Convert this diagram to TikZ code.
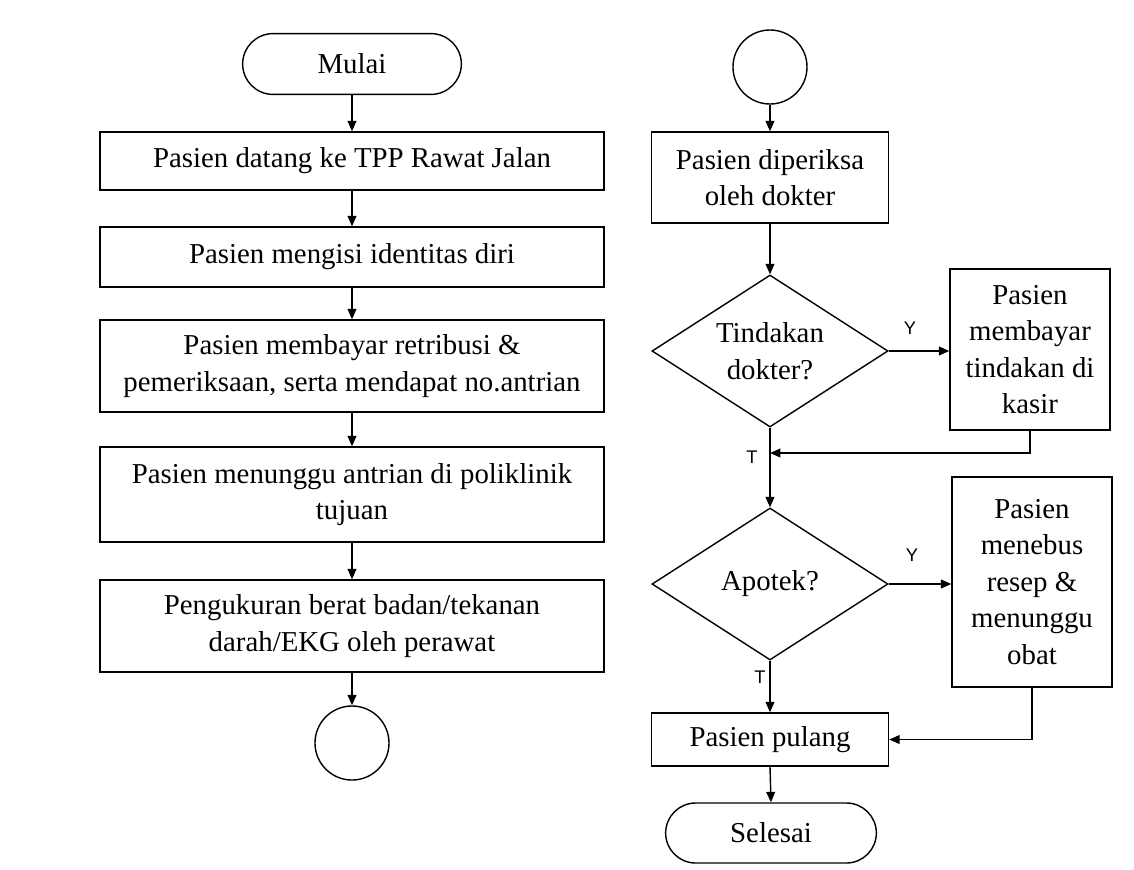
\documentclass[tikz,border=0pt]{standalone}
\usepackage{fontspec}
\setmainfont{Liberation Serif}
\newfontfamily\labelfont{Liberation Sans}
\usetikzlibrary{arrows.meta,shapes.geometric,shapes.misc}

\begin{document}
\begin{tikzpicture}[x=0.025cm,y=-0.025cm,line width=1pt,>={Triangle[length=2.6mm,width=2.2mm]},
  every node/.style={font=\fontsize{20.5}{26}\selectfont},
  kotak/.style={draw,rectangle,align=center,inner sep=2pt},
  kotakkiri/.style={kotak,minimum width=12.6cm},
  terminal/.style={draw,rounded rectangle,minimum width=5.7cm,minimum height=1.52cm},
  konektor/.style={draw,circle,minimum size=1.85cm},
  keputusan/.style={draw,diamond,aspect=1.54,align=center,inner sep=0pt,minimum width=5.9cm,minimum height=3.8cm},
  ket/.style={font=\labelfont\fontsize{13}{15}\selectfont}]
  \useasboundingbox (0,0) rectangle (1134,870);
  % kolom kiri: pendaftaran pasien
  \node[terminal] (mulai) at (352,64) {Mulai};
  \node[kotakkiri,minimum height=1.45cm] (datang) at (352,161) {Pasien datang ke TPP Rawat Jalan};
  \node[kotakkiri,minimum height=1.5cm] (identitas) at (352,257) {Pasien mengisi identitas diri};
  \node[kotakkiri,minimum height=2.3cm] (bayar) at (352,366) {Pasien membayar retribusi \&\\pemeriksaan, serta mendapat no.antrian};
  \node[kotakkiri,minimum height=2.375cm] (antri) at (352,494.5) {Pasien menunggu antrian di poliklinik\\tujuan};
  \node[kotakkiri,minimum height=2.3cm] (ukur) at (352,626) {Pengukuran berat badan/tekanan\\darah/EKG oleh perawat};
  \node[konektor] (sambung1) at (352,743) {};
  \foreach \a/\b in {mulai/datang,datang/identitas,identitas/bayar,bayar/antri,antri/ukur,ukur/sambung1}
    \draw[->] (\a.south) -- (\b.north);
  % kolom kanan: pemeriksaan sampai pulang
  \node[konektor] (sambung2) at (770,67) {};
  \node[kotak,minimum width=5.925cm,minimum height=2.275cm] (periksa) at (770,177.5) {Pasien diperiksa\\oleh dokter};
  \node[keputusan] (tindakan) at (770,351) {Tindakan\\dokter?};
  \node[kotak,minimum width=4cm,minimum height=4.025cm] (kasir) at (1030,349.5) {Pasien\\membayar\\tindakan di\\kasir};
  \coordinate (gabung1) at (770,453);
  \node[keputusan] (apotek) at (770,584) {Apotek?};
  \node[kotak,minimum width=4cm,minimum height=5.25cm] (obat) at (1032,582) {Pasien\\menebus\\resep \&\\menunggu\\obat};
  \node[kotak,minimum width=5.925cm,minimum height=1.325cm] (pulang) at (770,739.5) {Pasien pulang};
  \node[terminal,minimum width=5.5cm,minimum height=1.5cm] (selesai) at (771,833) {Selesai};
  \draw[->] (sambung2.south) -- (periksa.north);
  \draw[->] (periksa.south) -- (tindakan.north);
  \draw[->] (tindakan.east) -- (tindakan.east -| kasir.west);
  \draw (tindakan.south) -- (gabung1);
  \draw[->] (kasir.south) |- (gabung1);
  \draw[->] (gabung1) -- (apotek.north);
  \draw[->] (apotek.east) -- (apotek.east -| obat.west);
  \draw[->] (apotek.south) -- (pulang.north);
  \draw[->] (obat.south) |- (pulang.east);
  \draw[->] (pulang.south) -- (selesai.north);
  % keterangan cabang
  \node[ket] (ya1) at (910,328) {Y};
  \node[ket] (tidak1) at (752,457) {T};
  \node[ket] (ya2) at (912,555) {Y};
  \node[ket] (tidak2) at (760,677) {T};
\end{tikzpicture}
\end{document}
